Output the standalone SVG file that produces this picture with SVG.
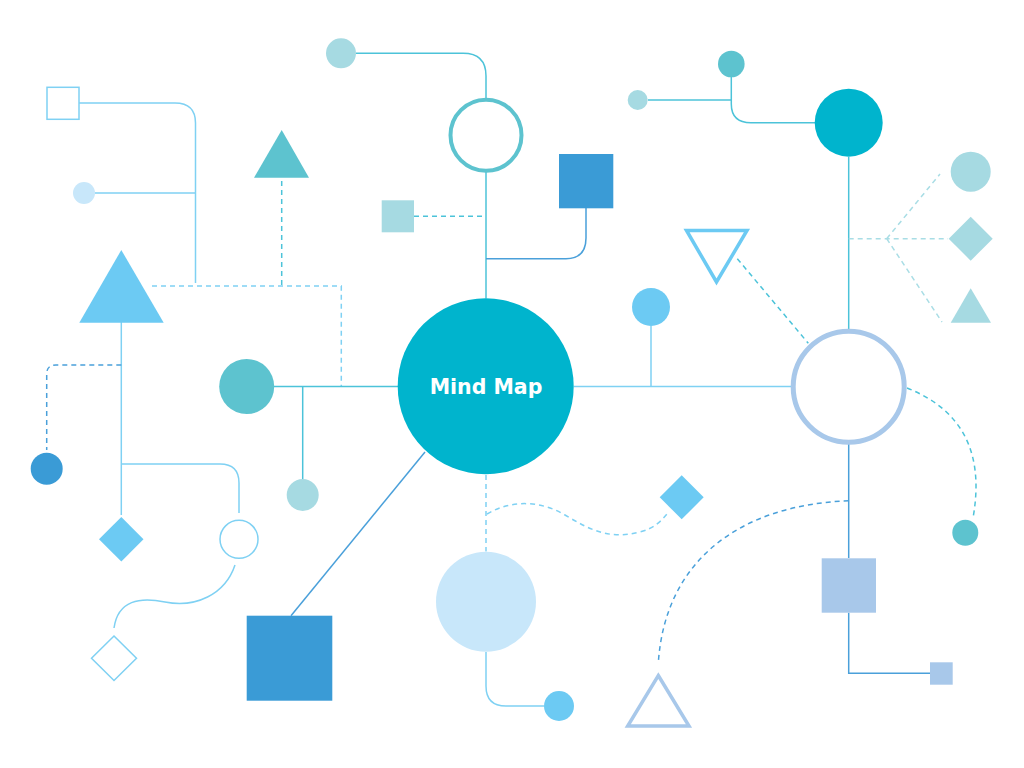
<svg xmlns="http://www.w3.org/2000/svg" width="1024" height="768" viewBox="0 0 1024 768">
<style>
.ln{fill:none;stroke-width:1.5}
.dash{stroke-dasharray:5 4}
.sky{stroke:#7fd1f3}
.teal{stroke:#4cc3d9}
.blue{stroke:#4aa0da}
.lteal{stroke:#a8dde5}
.label{font-family:"DejaVu Sans","Liberation Sans",sans-serif;font-weight:bold;font-size:20.5px;fill:#ffffff}
</style>
<rect width="1024" height="768" fill="#ffffff"/>
<g id="connectors">
  <!-- top-left -->
  <path class="ln sky" d="M79,103 H175 Q195.5,103 195.5,123 V283"/>
  <path class="ln sky" d="M95,193 H195.5"/>
  <path class="ln sky dash" d="M152,286 H341.3 V386.5"/>
  <path class="ln teal dash" d="M281.7,181 V286"/>
  <path class="ln sky" d="M121.3,322 V515"/>
  <path class="ln blue dash" stroke-dasharray="4 4" d="M121.3,365 H56 Q46.7,365 46.7,374 V450"/>
  <path class="ln sky" d="M121.3,464 H220 Q239,464 239,483 V513"/>
  <path class="ln sky" d="M235,565 C225,595 195,608 165,602 C140,597 118,600 114,628"/>
  <!-- left middle -->
  <path class="ln teal" d="M274,386.5 H398"/>
  <path class="ln teal" d="M302.7,386.5 V479"/>
  <path class="ln blue" d="M425,452 L291,615.7"/>
  <!-- top middle -->
  <path class="ln teal" d="M356,53.3 H463 Q486,53.3 486,76 V99"/>
  <path class="ln teal" d="M486,172 V298.5"/>
  <path class="ln teal dash" d="M414,216.3 H486"/>
  <path class="ln blue" d="M586,208 V238 Q586,258.7 566,258.7 H486"/>
  <!-- top right -->
  <path class="ln teal" d="M648,100 H731.3"/>
  <path class="ln teal" d="M731.3,77 V104 Q731.3,122.7 751,122.7 H815"/>
  <path class="ln teal" d="M848.7,157 V330"/>
  <path class="ln lteal dash" d="M848.7,238.7 H948 M886.7,238.7 L940,174 M886.7,238.7 L942,322"/>
  <path class="ln teal dash" stroke-dasharray="4 4" d="M737.3,258.7 L808.3,343.3"/>
  <!-- right middle -->
  <path class="ln sky" d="M574,386.5 H791"/>
  <path class="ln sky" d="M651,326 V386.5"/>
  <path class="ln teal dash" d="M907,388 C950,405 987,440 973,518"/>
  <path class="ln blue" d="M848.7,442 V558 M848.7,612.7 V673.3 H930"/>
  <path class="ln blue dash" stroke-dasharray="4 5" d="M848.7,500.7 C740,505 665,560 658.3,663"/>
  <!-- bottom middle -->
  <path class="ln sky dash" d="M486,475 V551.5"/>
  <path class="ln sky dash" d="M487,514 C510,500 540,500 565,515 C590,530 610,540 640,532 C655,528 662,520 667,514"/>
  <path class="ln sky" d="M486,652 V686 Q486,706 506,706 H544"/>
</g>
<g id="node-main"><circle cx="485.7" cy="386.3" r="88" fill="#00b4cd"/><text class="label" x="486" y="394" text-anchor="middle">Mind Map</text></g>
<g id="node-tl-square"><rect x="47" y="87.3" width="32" height="32" fill="none" stroke="#7fd1f3" stroke-width="1.5"/></g>
<g id="node-tl-dot"><circle cx="84" cy="193" r="11" fill="#c8e7fa"/></g>
<g id="node-big-triangle"><polygon points="121.3,250 163.7,322.7 79.3,322.7" fill="#6ccaf3"/></g>
<g id="node-teal-triangle"><polygon points="281.7,130 309,177.7 254,177.7" fill="#5dc3cf"/></g>
<g id="node-blue-dot"><circle cx="46.7" cy="468.7" r="16" fill="#3a9bd6"/></g>
<g id="node-diamond"><polygon points="121.3,517 143.5,539.3 121.3,561.5 99,539.3" fill="#6ccaf3"/></g>
<g id="node-ring-small"><circle cx="239" cy="539.3" r="19" fill="none" stroke="#7fd1f3" stroke-width="1.5"/></g>
<g id="node-diamond-outline"><polygon points="114,636 136.5,658.3 114,680.5 91.5,658.3" fill="none" stroke="#7fd1f3" stroke-width="1.5"/></g>
<g id="node-teal-dot"><circle cx="246.7" cy="386.5" r="27.5" fill="#5dc3cf"/></g>
<g id="node-lteal-dot"><circle cx="302.7" cy="495" r="16" fill="#a6dae2"/></g>
<g id="node-big-square"><rect x="246.7" y="615.7" width="85.6" height="85" fill="#3a9bd6"/></g>
<g id="node-top-dot"><circle cx="341" cy="53.3" r="15" fill="#a6dae2"/></g>
<g id="node-top-ring"><circle cx="486" cy="135.3" r="35.5" fill="none" stroke="#5dc3cf" stroke-width="4"/></g>
<g id="node-lteal-square"><rect x="381.7" y="200.3" width="32.3" height="32" fill="#a6dae2"/></g>
<g id="node-blue-square"><rect x="559" y="154" width="54.3" height="54.3" fill="#3a9bd6"/></g>
<g id="node-tr-teal-dot"><circle cx="731.3" cy="64" r="13.3" fill="#5dc3cf"/></g>
<g id="node-tr-small-dot"><circle cx="637.7" cy="100" r="10" fill="#a6dae2"/></g>
<g id="node-tr-big"><circle cx="848.7" cy="122.7" r="34" fill="#00b4cd"/></g>
<g id="node-r-circle"><circle cx="970.7" cy="171.7" r="20" fill="#a6dae2"/></g>
<g id="node-r-diamond"><polygon points="970.7,216.7 992.7,238.7 970.7,260.7 948.7,238.7" fill="#a6dae2"/></g>
<g id="node-r-triangle"><polygon points="970.7,288.3 991,322.7 950.7,322.7" fill="#a6dae2"/></g>
<g id="node-inv-triangle"><polygon points="686.5,230.5 747,230.5 716.5,282" fill="none" stroke="#6ccaf3" stroke-width="3.5"/></g>
<g id="node-sky-dot"><circle cx="651" cy="307" r="19" fill="#6ccaf3"/></g>
<g id="node-right-ring"><circle cx="848.7" cy="386.7" r="55.5" fill="none" stroke="#a8c8ea" stroke-width="5"/></g>
<g id="node-teal-dot-r"><circle cx="965.3" cy="532.7" r="13" fill="#5dc3cf"/></g>
<g id="node-lav-square"><rect x="821.7" y="558.3" width="54.3" height="54.4" fill="#a8c8ea"/></g>
<g id="node-lav-small"><rect x="930" y="662.3" width="22.7" height="22.4" fill="#a8c8ea"/></g>
<g id="node-outline-triangle"><polygon points="658.3,675.5 689,726 627.7,726" fill="none" stroke="#a8c8ea" stroke-width="3.5"/></g>
<g id="node-sky-diamond"><polygon points="681.7,475.3 703.7,497.3 681.7,519.3 659.7,497.3" fill="#6ccaf3"/></g>
<g id="node-pale-circle"><circle cx="486" cy="601.7" r="50" fill="#c8e7fa"/></g>
<g id="node-bottom-dot"><circle cx="559" cy="706" r="15" fill="#6ccaf3"/></g>
</svg>
